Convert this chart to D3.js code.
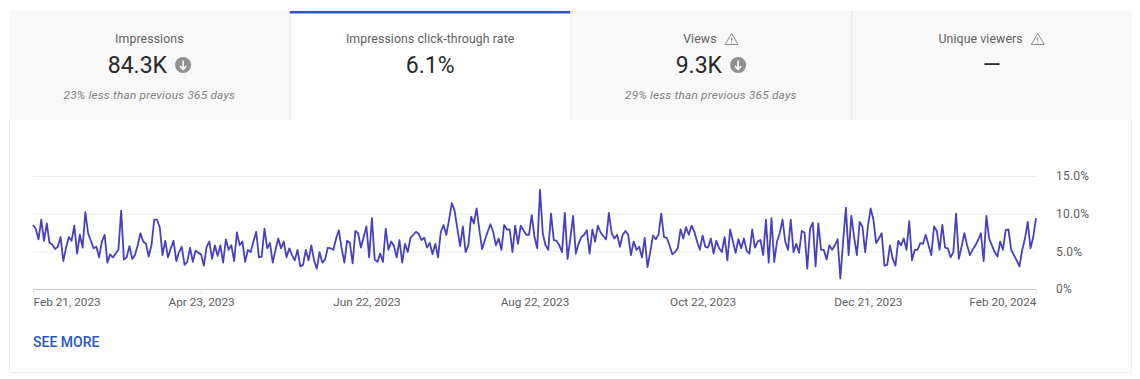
<!DOCTYPE html>
<html>
<head>
<meta charset="utf-8">
<style>
  html, body { margin: 0; padding: 0; background: #fff; }
  svg { display: block; font-family: Roboto, sans-serif; }
</style>
<script src="https://cdn.jsdelivr.net/npm/d3@7"></script>
</head>
<body>
<div id="chart"></div>
<script>
/* Studio-style reach card: four metric tabs over a daily CTR line. */

var tabTitles = ["Impressions", "Impressions click-through rate", "Views", "Unique viewers"];
var tabValues = ["84.3K", "6.1%", "9.3K", "—"];
var tabNotes = ["23% less than previous 365 days", "", "29% less than previous 365 days", ""];
var tabArrow = [true, false, true, false];
var tabWarning = [false, false, true, true];
var activeTab = 1;

var startDate = "2023-02-21";
var endDate = "2024-02-20";
var tickDates = ["2023-02-21", "2023-04-23", "2023-06-22", "2023-08-22", "2023-10-22", "2023-12-21", "2024-02-20"];
var tickLabels = ["Feb 21, 2023", "Apr 23, 2023", "Jun 22, 2023", "Aug 22, 2023", "Oct 22, 2023", "Dec 21, 2023", "Feb 20, 2024"];
var yTicks = [0, 5, 10, 15];

/* daily CTR in percent, one per day from startDate */
var ctrValues = [
  8.5, 8.0, 6.6, 9.2, 6.4, 8.7, 6.1, 5.9, 5.3, 5.6, 6.9, 3.7, 5.5, 6.9, 6.4, 8.4, 4.7, 7.2, 5.5, 10.2,
  7.4, 6.4, 5.4, 5.6, 4.2, 6.3, 7.2, 3.5, 4.6, 4.2, 4.7, 5.2, 10.4, 3.9, 4.2, 5.7, 4.0, 4.5, 5.8, 7.4,
  6.3, 6.0, 4.3, 5.8, 9.2, 9.2, 8.2, 4.5, 6.4, 4.2, 5.4, 6.4, 3.7, 4.9, 5.6, 3.2, 3.6, 5.5, 3.6, 5.1,
  4.8, 4.6, 3.1, 5.6, 6.3, 4.0, 5.8, 4.4, 5.8, 3.5, 6.6, 5.2, 5.8, 3.7, 7.5, 5.8, 6.3, 3.6, 5.2, 4.9,
  6.3, 7.6, 4.2, 4.3, 8.0, 5.4, 6.1, 3.5, 5.2, 6.7, 5.4, 6.3, 4.2, 5.4,
  4.5, 3.8, 5.2, 3.0, 3.2, 5.2, 3.8, 5.8, 3.8, 2.7, 4.9, 3.5, 3.9, 5.5, 5.4, 5.2, 6.7, 7.8, 5.4, 3.5,
  6.4, 6.1, 3.4, 7.7, 7.4, 5.5, 6.9, 8.3, 4.2, 9.4, 3.9, 3.6, 4.7, 3.6, 8.0, 5.2, 6.3, 5.7, 4.2, 6.5,
  3.5, 6.0, 4.9, 6.8, 7.2, 7.6, 7.3, 6.5, 6.8, 5.5, 6.1, 4.6, 6.0, 4.2, 7.6, 8.5, 7.2, 9.2, 11.4, 10.4,
  8.0, 5.7, 8.3, 4.9, 5.8, 9.6, 8.7, 10.7, 7.8, 5.3, 6.5, 7.6, 8.6, 7.6, 5.8, 6.7, 5.2, 8.5, 7.9, 7.9,
  4.9, 8.4, 6.0, 8.4, 7.8, 7.2, 7.2, 9.8, 6.9, 5.4, 13.2, 7.4, 5.8, 5.2,
  10.0, 6.5, 6.4, 5.8, 4.9, 10.1, 4.0, 6.7, 9.7, 4.7, 6.0, 6.9, 7.2, 7.8, 4.7, 7.9, 6.3, 8.4, 7.5, 7.0,
  6.6, 10.1, 7.4, 6.7, 7.2, 5.6, 7.2, 7.7, 7.2, 4.5, 6.3, 5.2, 5.6, 4.2, 6.8, 2.9, 4.9, 7.1, 6.6, 7.2,
  10.0, 6.9, 6.8, 5.8, 4.6, 4.9, 5.4, 7.9, 6.7, 8.2, 7.2, 8.4, 7.6, 6.3, 5.2, 7.1, 5.6, 5.5, 6.7, 4.7,
  6.4, 5.4, 4.9, 6.9, 3.8, 7.9, 6.3, 4.8, 6.6, 5.4, 6.7, 5.1, 4.7, 7.9, 5.5, 6.3, 6.5, 4.5, 9.2, 3.5,
  9.4, 3.6, 6.3, 7.4, 9.2, 6.3, 5.2, 9.2, 4.9, 6.0, 4.8, 7.7, 7.5, 2.7, 8.0,
  8.8, 3.0, 8.7, 5.2, 5.2, 3.9, 5.8, 5.2, 5.8, 6.6, 1.4, 6.3, 10.8, 4.5, 9.7, 6.9, 4.5, 8.9, 8.3, 4.9,
  8.3, 10.7, 9.2, 6.1, 6.7, 7.4, 3.1, 3.2, 5.8, 4.0, 3.1, 6.4, 5.8, 6.7, 5.2, 9.0, 3.8, 5.2, 5.2, 6.1,
  6.0, 7.2, 5.8, 4.5, 8.3, 7.7, 5.2, 8.5, 5.5, 5.4, 4.2, 4.9, 10.0, 4.0, 5.6, 7.4, 5.8, 4.5, 5.2, 5.8,
  6.5, 7.4, 3.7, 9.7, 6.7, 5.8, 4.9, 4.3, 6.3, 5.2, 7.8, 7.9, 5.2, 4.5, 3.8, 3.0, 5.2, 6.7, 8.9, 5.4,
  6.9, 9.4
];

var width = 1140;
var height = 379;
var card = { left: 9, right: 1132, top: 11, bottom: 373 };
var tabBottom = 120;
var tabW = (card.right - card.left) / tabTitles.length;
var plot = { left: 33, right: 1036, top: 176, bottom: 289 };

var parseDay = d3.utcParse("%Y-%m-%d");
var grey = "#606060";

var svg = d3.select("#chart").append("svg")
  .attr("width", width)
  .attr("height", height)
  .attr("viewBox", "0 0 " + width + " " + height);

/* Card outline and tab strip. */
svg.append("rect")
  .attr("x", card.left + 0.5)
  .attr("y", card.top + 0.5)
  .attr("width", card.right - card.left - 1)
  .attr("height", card.bottom - card.top - 1)
  .attr("rx", 2)
  .attr("fill", "#fff")
  .attr("stroke", "#ececec");

var tabs = svg.selectAll("g.tab")
  .data(tabTitles)
  .enter().append("g")
  .attr("class", "tab")
  .attr("transform", function (d, i) { return "translate(" + (card.left + i * tabW) + "," + card.top + ")"; });

tabs.append("rect")
  .attr("width", tabW)
  .attr("height", tabBottom - card.top)
  .attr("fill", function (d, i) { return i === activeTab ? "#fff" : "#f8f8f8"; });

/* Thin dividers between the grey tabs. */
tabs.filter(function (d, i) { return i > 0; }).append("line")
  .attr("x1", 0.5).attr("x2", 0.5)
  .attr("y1", 0).attr("y2", tabBottom - card.top)
  .attr("stroke", "#e6e6e6");

tabs.filter(function (d, i) { return i === activeTab; }).append("rect")
  .attr("width", tabW)
  .attr("height", 2.5)
  .attr("fill", "#2b56c0");

tabs.each(function (title, i) {
  var g = d3.select(this);
  var cx = tabW / 2;
  var titleText = g.append("text")
    .attr("x", cx - (tabWarning[i] ? 11 : 0))
    .attr("y", 31.5)
    .attr("text-anchor", "middle")
    .attr("font-size", 12.3)
    .attr("letter-spacing", 0.1)
    .attr("fill", grey)
    .text(title);

  if (tabWarning[i]) {
    var box = titleText.node().getBBox();
    var wx = box.x + box.width + 15;
    g.append("path")
      .attr("d", "M" + wx + " 22.5 L" + (wx + 6.5) + " 33.5 L" + (wx - 6.5) + " 33.5 Z")
      .attr("fill", "none")
      .attr("stroke", "#8c8c8c")
      .attr("stroke-width", 1);
    g.append("path")
      .attr("d", "M" + wx + " 26.5 V30 M" + wx + " 31 V32.2")
      .attr("stroke", "#8c8c8c")
      .attr("stroke-width", 1);
  }

  var valueText = g.append("text")
    .attr("x", cx - (tabArrow[i] ? 12 : 0))
    .attr("y", 62)
    .attr("text-anchor", "middle")
    .attr("font-size", 23)
    .attr("fill", "#282828")
    .text(tabValues[i]);

  if (tabArrow[i]) {
    var vb = valueText.node().getBBox();
    var ax = vb.x + vb.width + 15.5;
    g.append("circle").attr("cx", ax).attr("cy", 54).attr("r", 8).attr("fill", "#8f8f8f");
    g.append("path")
      .attr("d", "M" + ax + " 49.5 V58 M" + (ax - 3.2) + " 55 L" + ax + " 58.4 L" + (ax + 3.2) + " 55")
      .attr("fill", "none")
      .attr("stroke", "#f8f8f8")
      .attr("stroke-width", 1.7);
  }

  if (tabNotes[i]) {
    g.append("text")
      .attr("x", cx)
      .attr("y", 88)
      .attr("text-anchor", "middle")
      .attr("font-size", 11.8)
      .attr("font-style", "italic")
      .attr("letter-spacing", 0.2)
      .attr("fill", "#808080")
      .text(tabNotes[i]);
  }
});

/* Chart scales. */
var x = d3.scaleUtc()
  .domain([parseDay(startDate), parseDay(endDate)])
  .range([plot.left, plot.right]);
var y = d3.scaleLinear()
  .domain([0, 15])
  .range([plot.bottom, plot.top]);

/* Gridlines and right-hand axis. */
var yAxis = d3.axisRight(y)
  .tickValues(yTicks)
  .tickSize(plot.left - plot.right)
  .tickPadding(20)
  .tickFormat(function (d) { return d === 0 ? "0%" : d.toFixed(1) + "%"; });

var yG = svg.append("g")
  .attr("transform", "translate(" + plot.right + ",0)")
  .call(yAxis);
yG.select(".domain").remove();
yG.selectAll("line")
  .attr("stroke", function (d) { return d === 0 ? "#c6c6c6" : "#ededed"; });
yG.selectAll("text")
  .attr("font-family", "Roboto, sans-serif")
  .attr("font-size", 12)
  .attr("letter-spacing", 0.2)
  .attr("fill", grey);

/* Date axis, end labels pulled inside the plot. */
var xAxis = d3.axisBottom(x)
  .tickValues(tickDates.map(parseDay))
  .tickSize(5)
  .tickPadding(4)
  .tickFormat(function (d, i) { return tickLabels[i]; });

var xG = svg.append("g")
  .attr("transform", "translate(0," + plot.bottom + ")")
  .call(xAxis);
xG.select(".domain").remove();
xG.selectAll("line").attr("stroke", "#e4e4e4");
xG.selectAll("text")
  .attr("font-family", "Roboto, sans-serif")
  .attr("font-size", 11.8)
  .attr("fill", grey)
  .attr("text-anchor", function (d, i) {
    if (i === 0) return "start";
    return i === tickLabels.length - 1 ? "end" : "middle";
  });

/* CTR line. */
var line = d3.line()
  .x(function (d, i) { return x(d3.utcDay.offset(parseDay(startDate), i)); })
  .y(function (d) { return y(d); });

svg.append("path")
  .datum(ctrValues)
  .attr("d", line)
  .attr("fill", "none")
  .attr("stroke", "#4a3fbd")
  .attr("stroke-width", 1.8)
  .attr("stroke-linejoin", "round");

svg.append("text")
  .attr("x", 33)
  .attr("y", 347)
  .attr("font-size", 14)
  .attr("font-weight", 500)
  .attr("fill", "#2b56c0")
  .text("SEE MORE");
</script>
</body>
</html>
